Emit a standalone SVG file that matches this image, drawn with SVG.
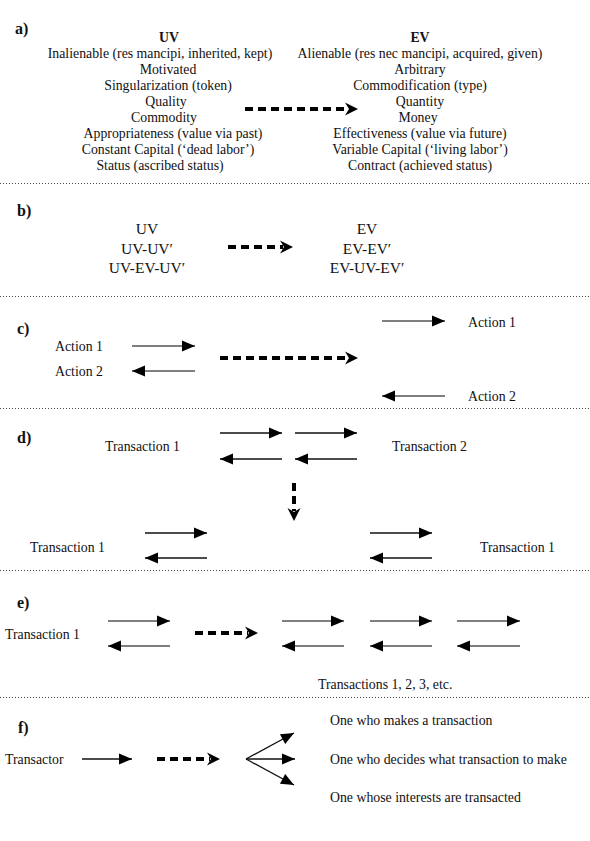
<svg xmlns="http://www.w3.org/2000/svg" width="590" height="841" viewBox="0 0 590 841">
<style>
text{font-family:"Liberation Serif","Times New Roman",serif;fill:#111}
.lab{font-size:16px;font-weight:bold}
.a{font-size:13.8px;text-anchor:middle}
.ah{font-size:13.8px;font-weight:bold;text-anchor:middle}
.b{font-size:15.5px;text-anchor:middle}
.t{font-size:13.8px}
.sep{stroke:#444;stroke-width:1;stroke-dasharray:1 2}
.sa{stroke:#555;stroke-width:1.5;fill:none;marker-end:url(#tri)}
.sb{stroke:#111;stroke-width:1.3;fill:none;marker-end:url(#tri)}
.da{stroke:#000;stroke-width:4;stroke-dasharray:8 5;fill:none;marker-end:url(#chev)}
</style>
<defs>
<marker id="tri" markerUnits="userSpaceOnUse" markerWidth="13" markerHeight="11" refX="13" refY="5.5" orient="auto" overflow="visible">
<path d="M0,0 L13,5.5 L0,11 Z" fill="#000"/>
</marker>
<marker id="chev" markerUnits="userSpaceOnUse" markerWidth="14" markerHeight="13" refX="3" refY="6.5" orient="auto" overflow="visible">
<path d="M0,0 L13,6.5 L0,13 L4,6.5 Z" fill="#000"/>
</marker>
</defs>

<g id="separators">
<line class="sep" x1="0" y1="183.5" x2="590" y2="183.5"/>
<line class="sep" x1="0" y1="296.5" x2="590" y2="296.5"/>
<line class="sep" x1="0" y1="408.5" x2="590" y2="408.5"/>
<line class="sep" x1="0" y1="570.5" x2="590" y2="570.5"/>
<line class="sep" x1="0" y1="697.5" x2="590" y2="697.5"/>
</g>

<g id="panel-a">
<text class="lab" x="15" y="34">a)</text>
<g id="uv-list">
<text class="ah" x="169" y="42">UV</text>
<text class="a" x="160" y="58">Inalienable (res mancipi, inherited, kept)</text>
<text class="a" x="168" y="74">Motivated</text>
<text class="a" x="168" y="90">Singularization (token)</text>
<text class="a" x="166" y="106">Quality</text>
<text class="a" x="164" y="122">Commodity</text>
<text class="a" x="173" y="138">Appropriateness (value via past)</text>
<text class="a" x="168" y="154">Constant Capital (‘dead labor’)</text>
<text class="a" x="160" y="170">Status (ascribed status)</text>
</g>
<g id="ev-list">
<text class="ah" x="420" y="42">EV</text>
<text class="a" x="420" y="58">Alienable (res nec mancipi, acquired, given)</text>
<text class="a" x="420" y="74">Arbitrary</text>
<text class="a" x="420" y="90">Commodification (type)</text>
<text class="a" x="420" y="106">Quantity</text>
<text class="a" x="418" y="122">Money</text>
<text class="a" x="420" y="138">Effectiveness (value via future)</text>
<text class="a" x="420" y="154">Variable Capital (‘living labor’)</text>
<text class="a" x="420" y="170">Contract (achieved status)</text>
</g>
</g>

<g id="panel-b">
<text class="lab" x="17" y="216">b)</text>
<g id="b-uv">
<text class="b" x="147" y="234">UV</text>
<text class="b" x="147" y="254">UV-UV′</text>
<text class="b" x="147" y="273">UV-EV-UV′</text>
</g>
<g id="b-ev">
<text class="b" x="367" y="234">EV</text>
<text class="b" x="367" y="254">EV-EV′</text>
<text class="b" x="367" y="273">EV-UV-EV′</text>
</g>
</g>

<g id="panel-c">
<text class="lab" x="17" y="334">c)</text>
<text class="t" x="55" y="351">Action 1</text>
<text class="t" x="55" y="376">Action 2</text>
<text class="t" x="468" y="327">Action 1</text>
<text class="t" x="468" y="401">Action 2</text>
</g>

<g id="panel-d">
<text class="lab" x="17" y="443">d)</text>
<text class="t" x="105" y="451">Transaction 1</text>
<text class="t" x="392" y="451">Transaction 2</text>
<text class="t" x="30" y="552">Transaction 1</text>
<text class="t" x="480" y="552">Transaction 1</text>
</g>

<g id="panel-e">
<text class="lab" x="17" y="608">e)</text>
<text class="t" x="5" y="639">Transaction 1</text>
<text class="t" x="318" y="689">Transactions 1, 2, 3, etc.</text>
</g>

<g id="panel-f">
<text class="lab" x="18" y="733">f)</text>
<text class="t" x="5" y="764">Transactor</text>
<text class="t" x="330" y="725">One who makes a transaction</text>
<text class="t" x="330" y="764">One who decides what transaction to make</text>
<text class="t" x="330" y="802">One whose interests are transacted</text>
</g>

<g id="connectors">
<line class="da" x1="245" y1="109" x2="348" y2="109"/>
<line class="da" x1="228" y1="247" x2="283" y2="247"/>
<line class="sa" x1="132" y1="346" x2="195" y2="346"/>
<line class="sa" x1="195" y1="371" x2="132" y2="371"/>
<line class="da" x1="220" y1="358" x2="348" y2="358"/>
<line class="sa" x1="382" y1="321" x2="445" y2="321"/>
<line class="sa" x1="445" y1="396" x2="382" y2="396"/>
<line class="sb" x1="220" y1="433" x2="282" y2="433"/>
<line class="sb" x1="282" y1="459" x2="220" y2="459"/>
<line class="sb" x1="295" y1="433" x2="357" y2="433"/>
<line class="sb" x1="357" y1="459" x2="295" y2="459"/>
<line class="da" x1="294" y1="483" x2="294" y2="511"/>
<line class="sb" x1="145" y1="533" x2="207" y2="533"/>
<line class="sb" x1="207" y1="558" x2="145" y2="558"/>
<line class="sb" x1="370" y1="533" x2="432" y2="533"/>
<line class="sb" x1="432" y1="558" x2="370" y2="558"/>
<line class="sa" x1="108" y1="621" x2="170" y2="621"/>
<line class="sa" x1="170" y1="646" x2="108" y2="646"/>
<line class="da" x1="195" y1="633" x2="248" y2="633"/>
<line class="sa" x1="282" y1="621" x2="344" y2="621"/>
<line class="sa" x1="344" y1="646" x2="282" y2="646"/>
<line class="sa" x1="370" y1="621" x2="432" y2="621"/>
<line class="sa" x1="432" y1="646" x2="370" y2="646"/>
<line class="sa" x1="457" y1="621" x2="520" y2="621"/>
<line class="sa" x1="520" y1="646" x2="457" y2="646"/>
<line class="sb" x1="82" y1="759" x2="132" y2="759"/>
<line class="da" x1="157" y1="759" x2="210" y2="759"/>
<line class="sb" x1="246" y1="759" x2="294" y2="733"/>
<line class="sb" x1="246" y1="759" x2="295" y2="759"/>
<line class="sb" x1="246" y1="759" x2="294" y2="785"/>
</g>
</svg>
